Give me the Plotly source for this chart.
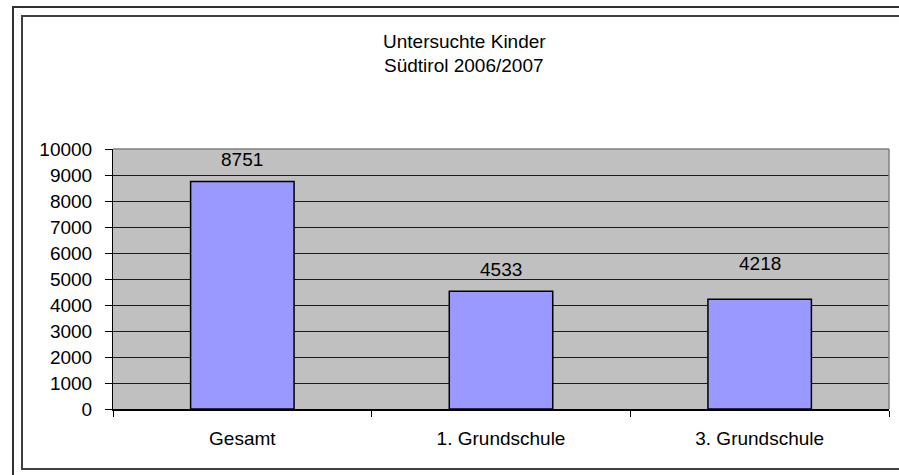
import plotly.graph_objects as go

categories = ["Gesamt", "1. Grundschule", "3. Grundschule"]
values = [8751, 4533, 4218]
title_lines = ["Untersuchte Kinder", "Südtirol 2006/2007"]

# label offsets above bar tops (pixels), styling only
label_shift = [22, 22, 36]

W, H = 899, 475
L, R, T, B = 113, 889, 149, 409  # plot area in pixels

def px(x):
    return (x - L) / (R - L)

def py(y):
    return (B - y) / (B - T)

FONT = "Liberation Sans, Arial, sans-serif"
FS = 19

fig = go.Figure()
fig.add_trace(go.Bar(
    x=categories, y=values, width=0.4,
    marker=dict(color="#9999FF", line=dict(color="#000000", width=1.5)),
    hoverinfo="x+y",
))

annotations = []
for c, v, s in zip(categories, values, label_shift):
    annotations.append(dict(x=c, y=v, xref="x", yref="y", text=str(v), showarrow=False,
                            yanchor="middle", yshift=s, font=dict(family=FONT, size=FS, color="#000")))
for i, line in enumerate(title_lines):
    annotations.append(dict(x=px(464), y=py([42, 65][i]), xref="paper", yref="paper", text=line,
                            showarrow=False, xanchor="center", yanchor="middle",
                            font=dict(family=FONT, size=FS, color="#000")))

shapes = [
    # outer frame
    dict(type="rect", xref="paper", yref="paper", x0=px(13), x1=px(920), y0=py(7), y1=py(495),
         line=dict(color="#303030", width=2), fillcolor="rgba(0,0,0,0)", layer="above"),
    # inner frame
    dict(type="rect", xref="paper", yref="paper", x0=px(22), x1=px(910), y0=py(16), y1=py(469),
         line=dict(color="#404040", width=2), fillcolor="rgba(0,0,0,0)", layer="above"),
    # top & right plot border (gray)
    dict(type="line", xref="paper", yref="paper", x0=0, x1=1, y0=1, y1=1,
         line=dict(color="#808080", width=1.5), layer="above"),
    dict(type="line", xref="paper", yref="paper", x0=1, x1=1, y0=0, y1=1,
         line=dict(color="#808080", width=1.5), layer="above"),
]

fig.update_layout(
    width=W, height=H,
    margin=dict(l=L, r=W - R, t=T, b=H - B, pad=0),
    paper_bgcolor="#FFFFFF",
    plot_bgcolor="#C0C0C0",
    showlegend=False,
    bargap=0.6,
    font=dict(family=FONT, size=FS, color="#000"),
    annotations=annotations,
    shapes=shapes,
)
fig.update_yaxes(range=[0, 10000], dtick=1000, tick0=0, tickformat="d", showgrid=True,
                 gridcolor="#1a1a1a", gridwidth=1,
                 showline=True, linecolor="#000", linewidth=1, ticks="outside", ticklen=7,
                 tickcolor="#000", ticklabelstandoff=9, zeroline=False,
                 tickfont=dict(family=FONT, size=FS, color="#000"), fixedrange=True)
fig.update_xaxes(showgrid=False, showline=True, linecolor="#000", linewidth=1.5, ticks="outside",
                 tickson="boundaries", ticklen=6, tickcolor="#000", ticklabelstandoff=11,
                 tickfont=dict(family=FONT, size=FS, color="#000"), fixedrange=True)

fig.write_html("out.html", config={"displayModeBar": False},
               post_script="document.body.style.margin='0';")
